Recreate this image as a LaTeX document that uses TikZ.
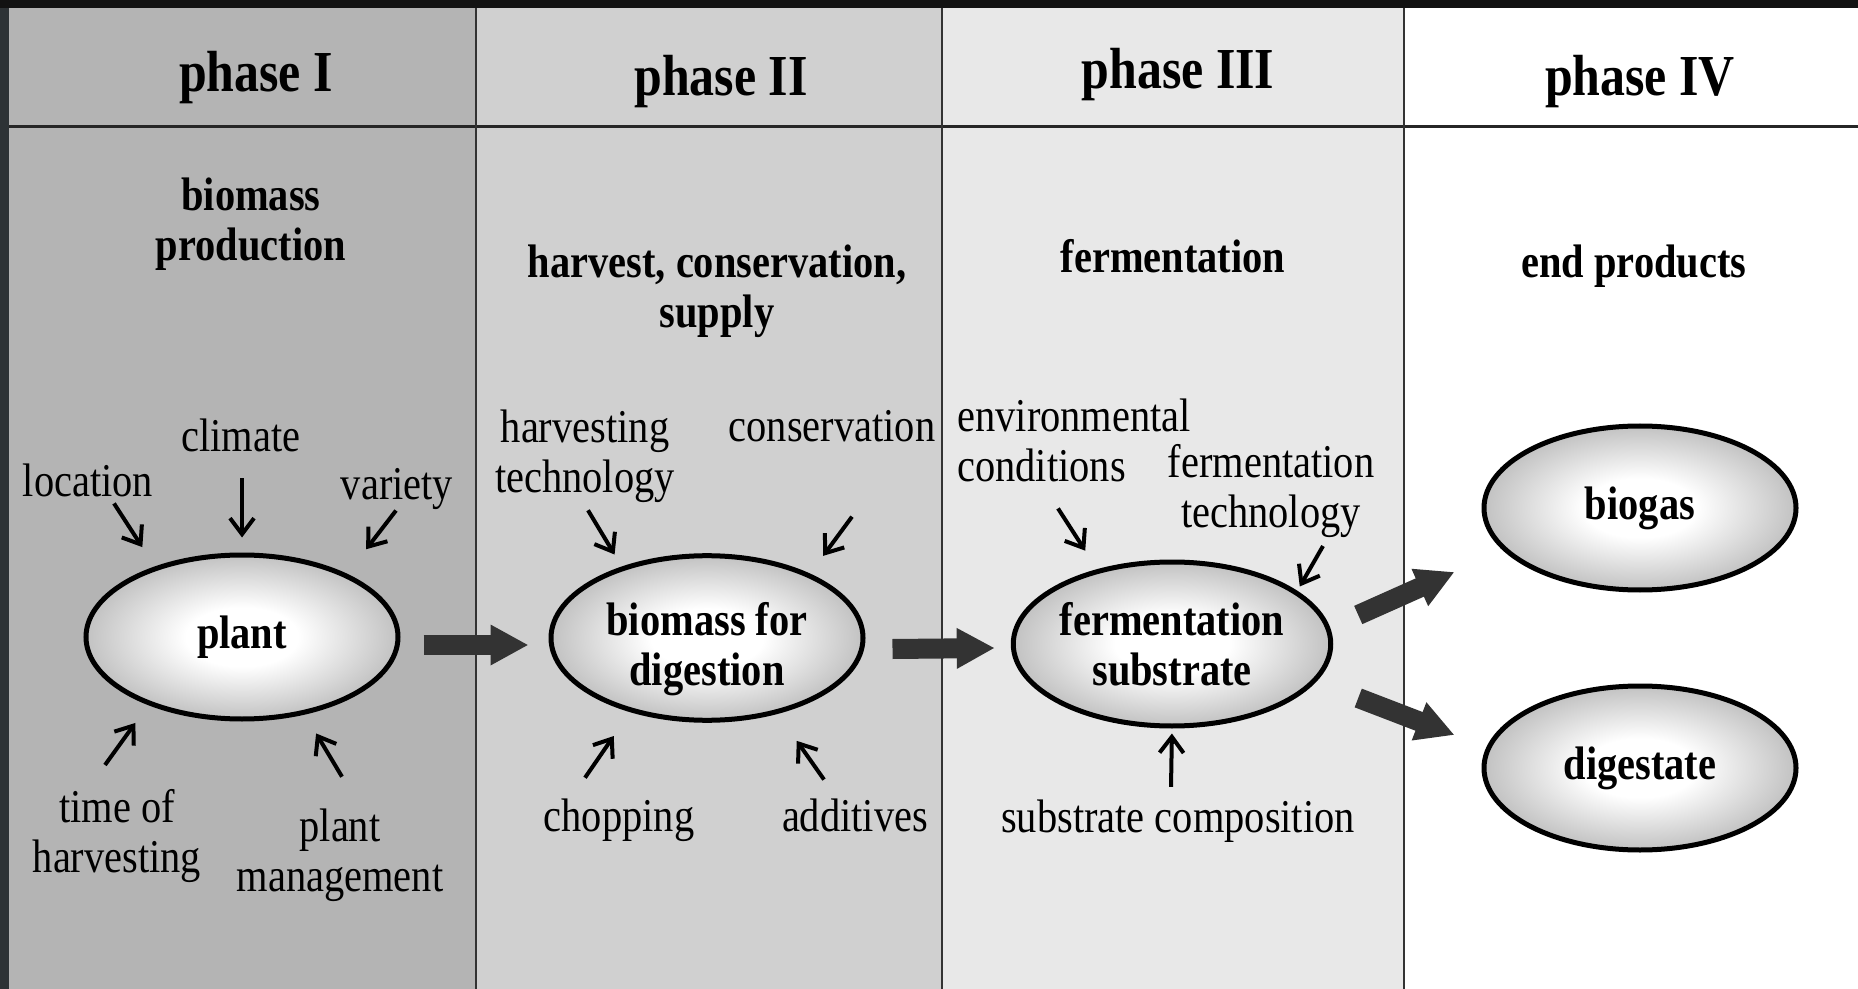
\documentclass[tikz,border=0pt]{standalone}
\usepackage{fontspec}
\setmainfont{Liberation Serif}[FakeStretch=0.86]
\usepackage{tikz}
\usetikzlibrary{shapes.geometric, arrows.meta}

\definecolor{phaseone}{HTML}{B4B4B4}
\definecolor{phasetwo}{HTML}{D0D0D0}
\definecolor{phasethree}{HTML}{E8E8E8}
\definecolor{frame}{HTML}{2D3235}
\definecolor{flowgray}{HTML}{333333}
\pgfdeclareradialshading{ovalshade}{\pgfpoint{0bp}{0bp}}{color(0bp)=(white);
color(9bp)=(white); color(25bp)=(black!24); color(50bp)=(black!24)}

\tikzstyle{phase} = [inner sep=0pt, font=\bfseries\fontsize{29}{30}\selectfont]
\tikzstyle{topic} = [inner sep=0pt, align=center,
font=\bfseries\fontsize{23.5}{25}\selectfont]
\tikzstyle{factor} = [inner sep=0pt, align=center, font=\fontsize{23.5}{25}\selectfont]
\tikzstyle{product} = [ellipse, draw=black, line width=2.5pt, inner sep=0pt,
minimum width=156pt, minimum height=82pt, shade, shading=ovalshade, align=center,
font=\bfseries\fontsize{23.5}{25}\selectfont]
\tikzstyle{arrow} = [line width=2pt, ->, >={Straight Barb[length=8pt,width=12pt]}]
\tikzstyle{flow} = [line width=10pt, draw=flowgray, -{Triangle[length=19pt,width=19pt]}]

\begin{document}
\begin{tikzpicture}[x=0.5pt, y=-0.5pt]
\useasboundingbox (0,0) rectangle (1858,989);

% columns of the four phases
\fill[phaseone] (9,8) rectangle (476,989);
\fill[phasetwo] (476,8) rectangle (942,989);
\fill[phasethree] (942,8) rectangle (1404,989);
\fill[frame] (0,0) rectangle (9,989);
\fill[black!93] (0,0) rectangle (1858,8);
\draw[line width=1.5pt, black!85] (9,127) -- (1858,127);
\foreach \x in {476,942,1404}
  \draw[line width=1pt, black!80] (\x,8) -- (\x,989);

\node(p1)[phase] at (256,78) {phase I};
\node(p2)[phase] at (721,82) {phase II};
\node(p3)[phase] at (1178,75) {phase III};
\node(p4)[phase] at (1640,82) {phase IV};

\node(production)[topic] at (251,224) {biomass\\production};
\node(harvest)[topic] at (717,291) {harvest, conservation,\\supply};
\node(fermentation)[topic] at (1173,256.5) {fermentation};
\node(endproducts)[topic] at (1634,266) {end products};

\node(plant)[product] at (242,637) {plant};
\node(biomass)[product] at (707,638) {\rule{0pt}{28pt}biomass for\\digestion};
\node(substrate)[product] at (1172,644) {fermentation\\substrate};
\node(biogas)[product] at (1640,508) {biogas};
\node(digestate)[product] at (1640,768) {digestate};

\node(climate)[factor] at (241,435.5) {climate};
\node(location)[factor] at (88,480.5) {location};
\node(variety)[factor] at (397,489.5) {variety};
\node(timing)[factor] at (117,836) {time of\\harvesting};
\node(management)[factor] at (340,855.5) {plant\\management};
\node(harvtech)[factor] at (585,456.5) {harvesting\\technology};
\node(conservation)[factor] at (832,426.5) {conservation};
\node(chopping)[factor] at (619,820.5) {chopping};
\node(additives)[factor] at (855,815.5) {additives};
\node(environment)[factor, align=left, anchor=west] at (957,440.5) {environmental\\conditions};
\node(fermtech)[factor] at (1271,491) {fermentation\\technology};
\node(composition)[factor] at (1178,821.5) {substrate composition};

% influences
\draw[arrow, shorten >=11.5pt]([xshift=13pt,yshift=-3pt]location.south) -- (plant.141.5);
\draw[arrow, shorten >=7.5pt]([xshift=0.5pt,yshift=-13pt]climate.south) -- (plant.90);
\draw[arrow, shorten >=15.5pt]([xshift=-0.5pt]variety.south) -- (plant.31.4);
\draw[arrow, shorten >=11pt]([xshift=-6pt,yshift=12pt]timing.north) -- (plant.216.5);
\draw[arrow, shorten >=11pt]([xshift=1pt,yshift=16pt]management.north) -- (plant.309);
\draw[arrow, shorten >=7pt]([xshift=1.5pt,yshift=-3.5pt]harvtech.south) -- (biomass.140.4);
\draw[arrow, shorten >=11pt]([xshift=10pt,yshift=-37pt]conservation.south) -- (biomass.32.3);
\draw[arrow, shorten >=14.5pt]([xshift=-17pt,yshift=10.5pt]chopping.north) -- (biomass.224.1);
\draw[arrow, shorten >=16.5pt]([xshift=-15.5pt,yshift=9.5pt]additives.north) -- (biomass.313.5);
\draw[arrow, shorten >=11pt]([xshift=50.5pt,yshift=-13pt]environment.south west) -- (substrate.135.6);
\draw[arrow, shorten >=2.5pt]([xshift=26pt,yshift=-4pt]fermtech.south) -- (substrate.23.3);
\draw[arrow, shorten >=2.5pt]([xshift=-3.5pt,yshift=6.5pt]composition.north) -- (substrate.south);

% main flow
\draw[flow]([xshift=11.5pt,yshift=-4pt]plant.east) -- ([xshift=-10pt,yshift=-3.5pt]biomass.west);
\draw[flow]([xshift=13.5pt,yshift=-5.5pt]biomass.east) -- ([xshift=-8pt,yshift=-2pt]substrate.west);
\draw[flow]([xshift=12.5pt,yshift=14.5pt]substrate.east) -- ([xshift=-13.5pt,yshift=-32pt]biogas.west);
\draw[flow]([xshift=12.5pt,yshift=-27pt]substrate.east) -- ([xshift=-13.5pt,yshift=16.5pt]digestate.west);

\end{tikzpicture}
\end{document}
